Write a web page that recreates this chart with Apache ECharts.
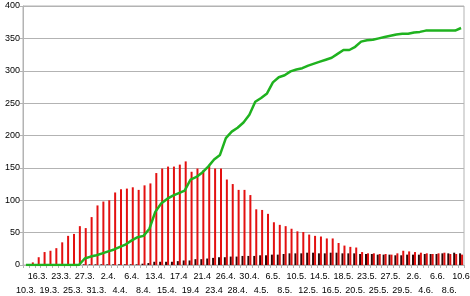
<!DOCTYPE html>
<html><head><meta charset="utf-8">
<script src="https://cdn.jsdelivr.net/npm/echarts@6/dist/echarts.min.js"></script>
<style>html,body{margin:0;padding:0;background:#fff}#c{width:470px;height:296px}</style>
</head><body><div id="c"></div>
<script>
var categories = ['10.3.','13.3.','16.3.','17.3.','19.3.','21.3.','23.3.','24.3.','25.3.','26.3.',
'27.3.','30.3.','31.3.','1.4.','2.4.','3.4.','4.4.','5.4.','6.4.','7.4.',
'8.4.','10.4.','13.4.','14.4.','15.4.','16.4.','17.4','18.4','19.4','20.4',
'21.4','22.4','23.4','24.4','26.4.','27.4.','28.4.','29.4.','30.4.','2.5.',
'4.5.','5.5.','6.5.','7.5.','8.5.','9.5.','10.5.','11.5.','12.5.','13.5.',
'14.5.','15.5.','16.5.','17.5.','18.5.','19.5.','20.5.','22.5.','23.5.','24.5.',
'25.5.','26.5.','27.5.','28.5.','29.5.','31.5.','2.6.','3.6.','4.6.','5.6.',
'6.6.','7.6.','8.6.','9.6.','10.6'];
var redValues = [1,4,12,20,22,26,35,45,48,60,
57,74,92,98,100,112,117,118,120,116,
123,126,142,149,152,152,155,160,144,149,
146,153,149,149,132,125,116,116,108,86,
85,79,66,62,60,56,52,51,47,45,
44,41,41,34,30,28,27,20,18,18,
17,17,16,18,22,21,20,19,18,17,
18,19,17,17,16];
var darkValues = [0,0,0,0,0,0,0,0,0,0,
1,1,1,1,1,1,1,1,1,1,
2,3,5,5,5,5,6,7,7,9,
9,10,11,12,12,13,13,14,14,14,
15,15,16,16,17,18,18,18,19,19,
18,18,19,19,18,18,18,17,17,17,
16,16,16,15,15,16,16,16,17,17,
17,18,18,19,18];
var greenValues = [0,0,0,0,0,0,0,0,0,0,
10,13,15,18,21,24,28,32,38,43,
45,56,82,95,102,107,111,115,132,136,
143,152,163,170,196,206,212,220,232,252,
258,265,282,290,293,299,302,304,308,311,
314,317,320,326,332,332,337,345,347,348,
350,352,354,356,357,357,359,360,362,362,
362,362,362,362,366];
var yTicks = [0,50,100,150,200,250,300,350,400];

var chart = echarts.init(document.getElementById('c'), null, {renderer:'canvas'});
var font = 'Liberation Sans, Arial, sans-serif';
var labelBase = {hideOverlap: false, fontSize: 9, fontFamily: font, color: '#000', lineHeight: 14};
chart.setOption({
  animation: false,
  grid: {left: 23, right: 6, top: 6, bottom: 31, show: true, borderColor: '#b3b3b3', borderWidth: 1,
         containLabel: false, outerBoundsMode: 'none'},
  xAxis: [{
    type: 'category', data: categories, boundaryGap: true, position: 'bottom', offset: 0,
    axisLine: {lineStyle: {color: '#b3b3b3'}},
    axisTick: {show: true, interval: 0, length: 3, lineStyle: {color: '#b3b3b3'}},
    axisLabel: Object.assign({}, labelBase, {margin: 5,
      interval: function (i) { return i % 4 === 2; }}),
    splitLine: {show: false}
  }, {
    type: 'category', data: categories, boundaryGap: true, position: 'bottom', offset: 0,
    axisLine: {show: false}, axisTick: {show: false},
    axisLabel: Object.assign({}, labelBase, {margin: 19,
      interval: function (i) { return i % 4 === 0; }}),
    splitLine: {show: false}
  }],
  yAxis: {
    type: 'value', min: yTicks[0], max: yTicks[yTicks.length-1], interval: 50,
    axisLine: {show: true, lineStyle: {color: '#b3b3b3'}},
    axisTick: {show: true, length: 3, inside: false, lineStyle: {color: '#b3b3b3'}},
    axisLabel: {fontSize: 9, fontFamily: font, color: '#000', margin: 3},
    splitLine: {show: true, lineStyle: {color: '#b3b3b3', width: 1}}
  },
  series: [
    {type: 'bar', data: darkValues, barWidth: 2, barGap: '0%', itemStyle: {color: '#2b0606'}},
    {type: 'bar', data: redValues, barWidth: 2, barGap: '0%', itemStyle: {color: '#e31010'}},
    {type: 'line', data: greenValues, symbol: 'none', smooth: false,
     lineStyle: {color: '#1fb21f', width: 2.5}, z: 5}
  ]
});
</script>
</body></html>
